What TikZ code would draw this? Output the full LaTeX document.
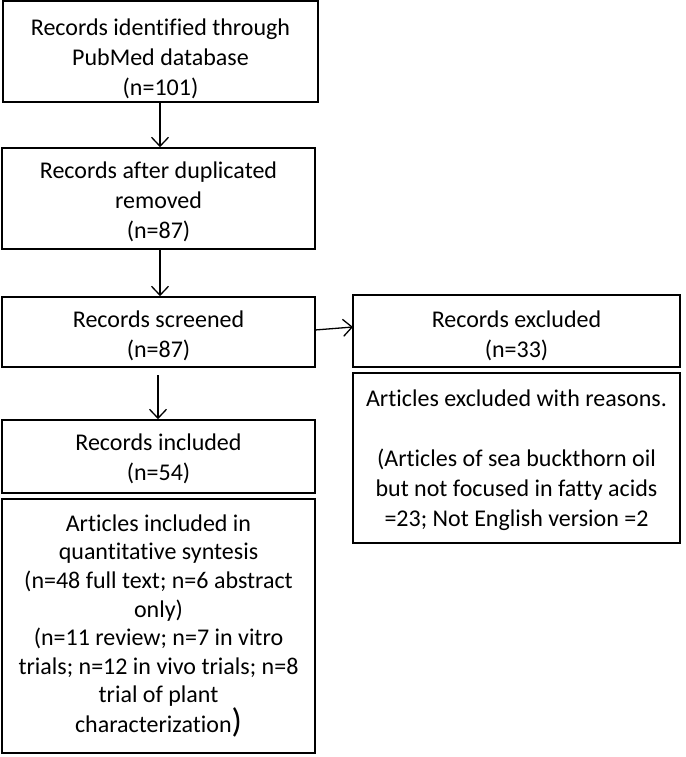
\documentclass[tikz,border=0pt]{standalone}
\usepackage{fontspec}
\setmainfont[Ligatures=NoCommon]{Carlito}
\usetikzlibrary{arrows.meta}
\newcommand{\dshift}[1]{\rule{0pt}{\dimexpr 17pt+2\dimexpr #1pt\relax\relax}}
\begin{document}
\begin{tikzpicture}[x=1pt,y=-1pt,
  box/.style={draw=black, line width=1.6pt, inner sep=0pt, align=center,
    font=\fontsize{24}{30}\selectfont},
  arr/.style={line width=1.3pt, -{Straight Barb[length=9pt,width=17pt,line width=1.3pt]}}]
\useasboundingbox (0,0) rectangle (685,757);
\node[box, minimum width=315pt, minimum height=101pt] (b1) at (160.5,51.5)
  {\dshift{7}Records identified through\\PubMed database\\(n=101)};
\node[box, minimum width=313pt, minimum height=101pt] (b2) at (158.5,198.5)
  {\dshift{3}Records after duplicated\\removed\\(n=87)};
\node[box, minimum width=313pt, minimum height=70pt] (b3) at (158.5,332)
  {\dshift{4}Records screened\\(n=87)};
\node[box, minimum width=327pt, minimum height=72pt] (b4) at (516.5,331)
  {\dshift{5}Records excluded\\(n=33)};
\node[box, minimum width=327pt, minimum height=170pt] (b5) at (516.5,458)
  {\dshift{2}Articles excluded with reasons.\\[30pt](Articles of sea buckthorn oil\\but not focused in fatty acids\\=23; Not English version =2};
\node[box, minimum width=313pt, minimum height=254pt, font=\fontsize{24}{28.6}\selectfont] (b7) at (158.5,626)
  {Articles included in\\quantitative syntesis\\(n=48 full text; n=6 abstract\\only)\\(n=11 review; n=7 in vitro\\trials; n=12 in vivo trials; n=8\\trial of plant\\characterization{\fontsize{34}{30}\selectfont)}};
\node[box, minimum width=313pt, minimum height=73pt] (b6) at (158.5,456.5)
  {\dshift{2}Records included\\(n=54)};
\coordinate (s1) at (160,102);
\draw[arr] (s1) -- (b2.north -| s1);
\coordinate (s2) at (160,249);
\draw[arr] (s2) -- (b3.north -| s2);
\coordinate (s3) at (158,375);
\draw[arr] (s3) -- (b6.north -| s3);
\coordinate (s4) at (315,330);
\coordinate (e4) at (353,327);
\draw[arr] (s4) -- (e4);
\end{tikzpicture}
\end{document}
